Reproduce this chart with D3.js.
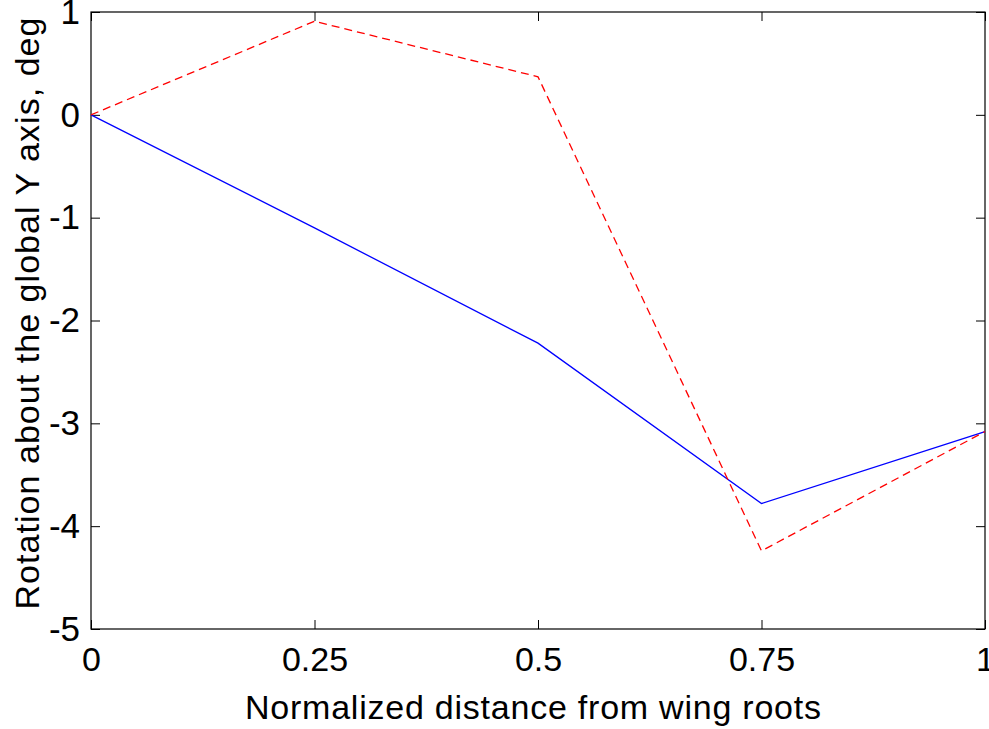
<!DOCTYPE html>
<html>
<head>
<meta charset="utf-8">
<script src="https://cdn.jsdelivr.net/npm/d3@7"></script>
<style>
  body { margin: 0; background: #fff; }
  text { font-family: "Liberation Sans", Arial, sans-serif; fill: #000; }
</style>
</head>
<body>
<div id="chart"></div>
<script>
// data
var xValues = [0, 0.25, 0.5, 0.75, 1];
var blueValues = [0, -1.1, -2.22, -3.78, -3.08];
var redValues = [0, 0.91, 0.37, -4.24, -3.08];
var xTicks = [0, 0.25, 0.5, 0.75, 1];
var xTickLabels = ["0", "0.25", "0.5", "0.75", "1"];
var yTicks = [1, 0, -1, -2, -3, -4, -5];

var W = 989, H = 729;
var margin = {top: 12, right: 4, bottom: 100, left: 91},
    width = W - margin.left - margin.right,
    height = H - margin.top - margin.bottom;

var svg = d3.select("#chart")
    .append("svg")
    .attr("width", W)
    .attr("height", H)
    .append("g")
    .attr("transform", "translate(" + margin.left + "," + margin.top + ")");

var x = d3.scaleLinear().domain([0, 1]).range([0, width]);
var y = d3.scaleLinear().domain([-5, 1]).range([height, 0]);

// plot box
svg.append("rect")
    .attr("width", width)
    .attr("height", height)
    .attr("fill", "none")
    .attr("stroke", "#000")
    .attr("stroke-width", 1.2);

var tickLen = 9;

// bottom axis, ticks pointing in
var xAxis = svg.append("g")
    .attr("transform", "translate(0," + height + ")")
    .call(d3.axisBottom(x).tickValues(xTicks).tickSizeInner(-tickLen).tickSizeOuter(0)
        .tickPadding(18)
        .tickFormat(function(d, i) { return xTickLabels[i]; }));
xAxis.select(".domain").remove();
xAxis.selectAll("text").style("font-size", "34px");

// top ticks
var xTop = svg.append("g")
    .call(d3.axisTop(x).tickValues(xTicks).tickSizeInner(-tickLen).tickSizeOuter(0).tickFormat(""));
xTop.select(".domain").remove();

// left axis (plain hyphen for minus, like the original)
var yAxis = svg.append("g")
    .call(d3.axisLeft(y).tickValues(yTicks).tickSizeInner(-tickLen).tickSizeOuter(0)
        .tickPadding(11).tickFormat(function(d) { return String(d); }));
yAxis.select(".domain").remove();
yAxis.selectAll("text").style("font-size", "35px");

// right ticks
var yRight = svg.append("g")
    .attr("transform", "translate(" + width + ",0)")
    .call(d3.axisRight(y).tickValues(yTicks).tickSizeInner(-tickLen).tickSizeOuter(0).tickFormat(""));
yRight.select(".domain").remove();

svg.selectAll(".tick line").attr("stroke", "#000");

// axis labels
svg.append("text")
    .attr("x", 533 - margin.left)
    .attr("y", height + 90)
    .attr("text-anchor", "middle")
    .style("font-size", "34px")
    .attr("textLength", 576)
    .text("Normalized distance from wing roots");

svg.append("text")
    .attr("transform", "translate(" + (-52) + "," + (height / 2 - 7) + ") rotate(-90)")
    .attr("text-anchor", "middle")
    .style("font-size", "34px")
    .attr("textLength", 592)
    .text("Rotation about the global Y axis, deg");

// lines
var line = function(vals) {
  return d3.line()
      .x(function(d, i) { return x(xValues[i]); })
      .y(function(d) { return y(d); })(vals);
};

svg.append("path")
    .attr("d", line(blueValues))
    .attr("fill", "none")
    .attr("stroke", "#0000ff")
    .attr("stroke-width", 1.3);

svg.append("path")
    .attr("d", line(redValues))
    .attr("fill", "none")
    .attr("stroke", "#ff0000")
    .attr("stroke-width", 1.3)
    .attr("stroke-dasharray", "8,5");
</script>
</body>
</html>
